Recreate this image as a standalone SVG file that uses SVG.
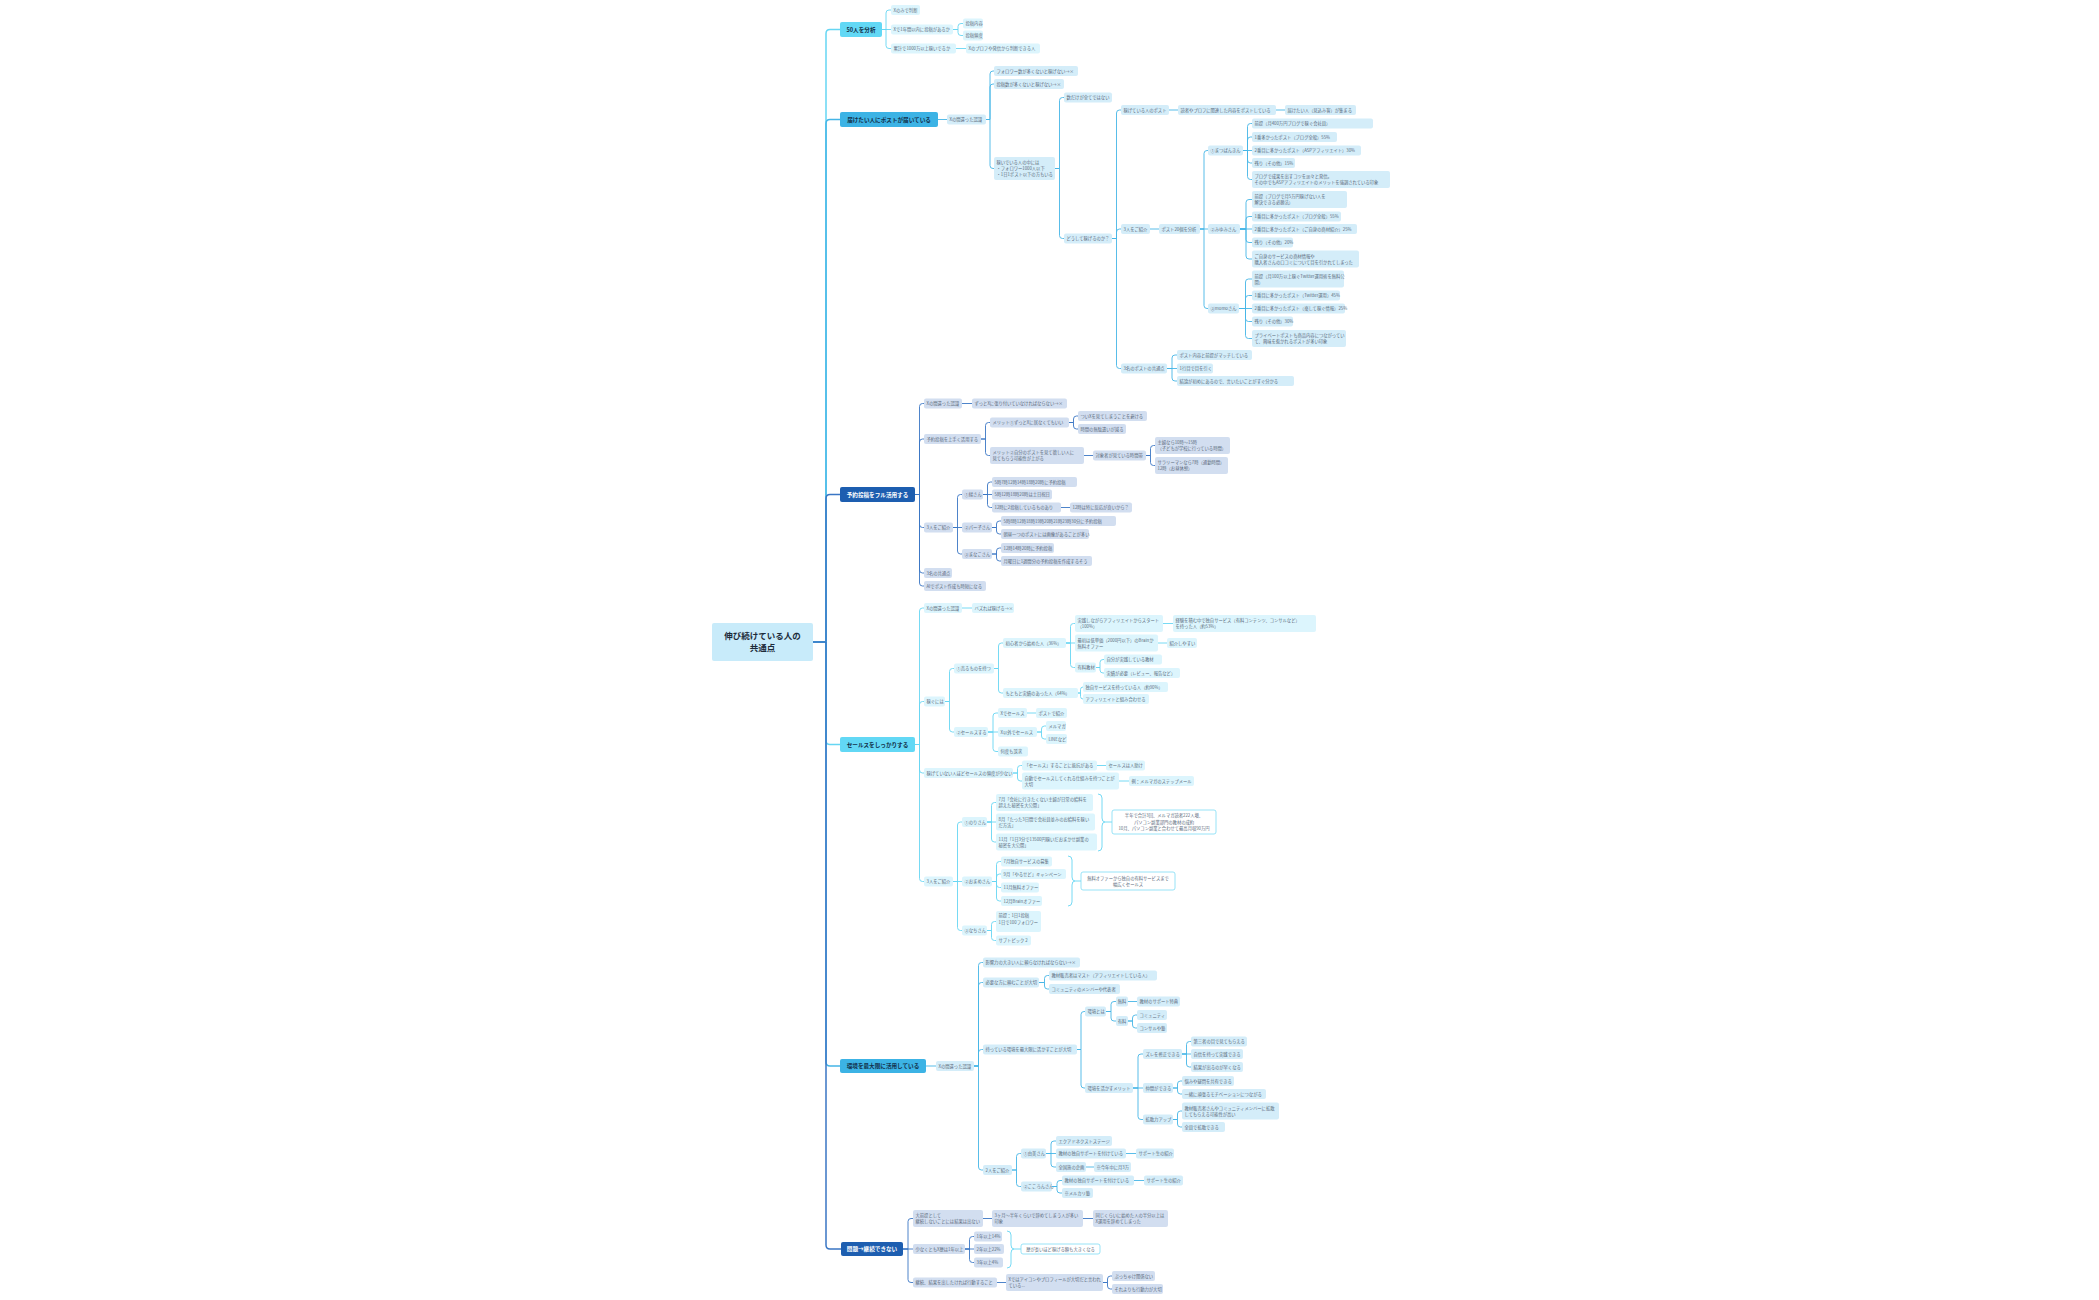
<svg xmlns="http://www.w3.org/2000/svg" width="2099" height="1300" viewBox="0 0 2099 1300">
<style>
text{font-family:"Noto Sans CJK JP","Noto Sans",sans-serif}
.t{font-size:4.3px;fill:#5b6b7c}
.tc{font-size:4.3px;fill:#5b6b7c;text-anchor:middle}
.c1{fill:#dcf5fd}
.c2{fill:#d4edf9}
.c3{fill:#d2def0}
.sm{fill:#ffffff;stroke:#7fdcf5;stroke-width:0.8}
.bt{font-size:5.6px;font-weight:bold;text-anchor:middle}
.dk{fill:#12304a}
.wh{fill:#ffffff}
.L1 path,.L1{stroke:#66d6f3}
.L2 path,.L2{stroke:#45b5e6}
.L3 path,.L3{stroke:#3a76c4}
#connectors path{fill:none;stroke-width:0.9}
#connectors .main path{stroke-width:1.5}
rect{rx:2}
</style>
<rect x="0" y="0" width="2099" height="1300" fill="#ffffff"/>
<g id="connectors">
<g class="main">
<path class="L1" d="M813 642 H826 V33.5 Q826 29.5 830 29.5 H840"/>
<path class="L2" d="M813 642 H826 V123.5 Q826 119.5 830 119.5 H840"/>
<path class="L3" d="M813 642 H826 V498.5 Q826 494.5 830 494.5 H840"/>
<path class="L1" d="M813 642 H826 V740.5 Q826 744.5 830 744.5 H840"/>
<path class="L2" d="M813 642 H826 V1062 Q826 1066 830 1066 H840"/>
<path class="L3" d="M813 642 H826 V1245 Q826 1249 830 1249 H841"/>
</g>
<g class="L1">
<path d="M882 29.5 H886 V13 Q886 10 889 10 H891"/>
<path d="M882 29.5 H891"/>
<path d="M882 29.5 H886 V45.5 Q886 48.5 889 48.5 H891"/>
<path d="M953 29.5 H958 V26.5 Q958 23.5 961 23.5 H963"/>
<path d="M953 29.5 H958 V32.5 Q958 35.5 961 35.5 H963"/>
<path d="M956 48.5 H966"/>
</g>
<g class="L2">
<path d="M938 119.5 H947"/>
<path d="M986 119.5 H990 V74 Q990 71 993 71 H994"/>
<path d="M986 119.5 H990 V87 Q990 84 993 84 H994"/>
<path d="M986 119.5 H990 V165.5 Q990 168.5 993 168.5 H994"/>
<path d="M1055 168.5 H1059.5 V100.5 Q1059.5 97.5 1062.5 97.5 H1064"/>
<path d="M1055 168.5 H1059.5 V235.5 Q1059.5 238.5 1062.5 238.5 H1064"/>
<path d="M1112 238.5 H1116.5 V113 Q1116.5 110 1119.5 110 H1121"/>
<path d="M1112 238.5 H1116.5 V232 Q1116.5 229 1119.5 229 H1121"/>
<path d="M1112 238.5 H1116.5 V365.5 Q1116.5 368.5 1119.5 368.5 H1121"/>
<path d="M1169 110 H1178"/>
<path d="M1276 110 H1285"/>
<path d="M1150 229 H1159"/>
<path d="M1200 229 H1204 V153.5 Q1204 150.5 1207 150.5 H1208"/>
<path d="M1200 229 H1208"/>
<path d="M1200 229 H1204 V305.5 Q1204 308.5 1207 308.5 H1208"/>
<path d="M1243 150.5 H1247.5 V126.5 Q1247.5 123.5 1250.5 123.5 H1252"/>
<path d="M1243 150.5 H1247.5 V140 Q1247.5 137 1250.5 137 H1252"/>
<path d="M1243 150.5 H1252"/>
<path d="M1243 150.5 H1247.5 V160 Q1247.5 163 1250.5 163 H1252"/>
<path d="M1243 150.5 H1247.5 V176.5 Q1247.5 179.5 1250.5 179.5 H1252"/>
<path d="M1240 229 H1246 V202.5 Q1246 199.5 1249 199.5 H1252"/>
<path d="M1240 229 H1246 V219.5 Q1246 216.5 1249 216.5 H1252"/>
<path d="M1240 229 H1252"/>
<path d="M1240 229 H1246 V239.5 Q1246 242.5 1249 242.5 H1252"/>
<path d="M1240 229 H1246 V256 Q1246 259 1249 259 H1252"/>
<path d="M1239 308.5 H1245.5 V282 Q1245.5 279 1248.5 279 H1252"/>
<path d="M1239 308.5 H1245.5 V298.5 Q1245.5 295.5 1248.5 295.5 H1252"/>
<path d="M1239 308.5 H1252"/>
<path d="M1239 308.5 H1245.5 V318.5 Q1245.5 321.5 1248.5 321.5 H1252"/>
<path d="M1239 308.5 H1245.5 V335.5 Q1245.5 338.5 1248.5 338.5 H1252"/>
<path d="M1167 368.5 H1172 V358 Q1172 355 1175 355 H1177"/>
<path d="M1167 368.5 H1177"/>
<path d="M1167 368.5 H1172 V378 Q1172 381 1175 381 H1177"/>
</g>
<g class="L3">
<path d="M915 494.5 H919.5 V406.5 Q919.5 403.5 922.5 403.5 H924"/>
<path d="M915 494.5 H919.5 V442 Q919.5 439 922.5 439 H924"/>
<path d="M915 494.5 H919.5 V524.5 Q919.5 527.5 922.5 527.5 H924"/>
<path d="M915 494.5 H919.5 V570 Q919.5 573 922.5 573 H924"/>
<path d="M915 494.5 H919.5 V583 Q919.5 586 922.5 586 H924"/>
<path d="M962 403.5 H972"/>
<path d="M981 439 H985.5 V425.5 Q985.5 422.5 988.5 422.5 H990"/>
<path d="M981 439 H985.5 V452.5 Q985.5 455.5 988.5 455.5 H990"/>
<path d="M1069 422.5 H1073.5 V419 Q1073.5 416 1076.5 416 H1078"/>
<path d="M1069 422.5 H1073.5 V426 Q1073.5 429 1076.5 429 H1078"/>
<path d="M1084 455.5 H1093"/>
<path d="M1146 455.5 H1150.5 V448.5 Q1150.5 445.5 1153.5 445.5 H1155"/>
<path d="M1146 455.5 H1150.5 V462.5 Q1150.5 465.5 1153.5 465.5 H1155"/>
<path d="M953 527.5 H957.5 V497.5 Q957.5 494.5 960.5 494.5 H962"/>
<path d="M953 527.5 H962"/>
<path d="M953 527.5 H957.5 V551 Q957.5 554 960.5 554 H962"/>
<path d="M983 494.5 H987.5 V485 Q987.5 482 990.5 482 H992"/>
<path d="M983 494.5 H992"/>
<path d="M983 494.5 H987.5 V504.5 Q987.5 507.5 990.5 507.5 H992"/>
<path d="M1061 507.5 H1070"/>
<path d="M992 527.5 H996.5 V524 Q996.5 521 999.5 521 H1001"/>
<path d="M992 527.5 H996.5 V531 Q996.5 534 999.5 534 H1001"/>
<path d="M992 554 H996.5 V551 Q996.5 548 999.5 548 H1001"/>
<path d="M992 554 H996.5 V558 Q996.5 561 999.5 561 H1001"/>
</g>
<g class="L1">
<path d="M915 744.5 H919.5 V611 Q919.5 608 922.5 608 H924"/>
<path d="M915 744.5 H919.5 V704.5 Q919.5 701.5 922.5 701.5 H924"/>
<path d="M915 744.5 H919.5 V770 Q919.5 773 922.5 773 H924"/>
<path d="M915 744.5 H919.5 V878.5 Q919.5 881.5 922.5 881.5 H924"/>
<path d="M962 608 H972"/>
<path d="M945 701.5 H949.5 V671.5 Q949.5 668.5 952.5 668.5 H954"/>
<path d="M945 701.5 H949.5 V729 Q949.5 732 952.5 732 H954"/>
<path d="M994 668.5 H998.5 V646 Q998.5 643 1001.5 643 H1003"/>
<path d="M994 668.5 H998.5 V690 Q998.5 693 1001.5 693 H1003"/>
<path d="M1066 643 H1070.5 V626.5 Q1070.5 623.5 1073.5 623.5 H1075"/>
<path d="M1066 643 H1075"/>
<path d="M1066 643 H1070.5 V664.5 Q1070.5 667.5 1073.5 667.5 H1075"/>
<path d="M1163 623.5 H1173"/>
<path d="M1158 643 H1167"/>
<path d="M1096 667.5 H1100 V662.5 Q1100 659.5 1103 659.5 H1104"/>
<path d="M1096 667.5 H1100 V670 Q1100 673 1103 673 H1104"/>
<path d="M1078 693 H1080.5 V689.5 Q1080.5 687 1083 687"/>
<path d="M1078 693 H1080.5 V696.5 Q1080.5 699 1083 699"/>
<path d="M988 732 H993 V716 Q993 713 996 713 H998"/>
<path d="M988 732 H998"/>
<path d="M988 732 H993 V748.5 Q993 751.5 996 751.5 H998"/>
<path d="M1027 713 H1036"/>
<path d="M1037 732 H1041.5 V729 Q1041.5 726 1044.5 726 H1046"/>
<path d="M1037 732 H1041.5 V736 Q1041.5 739 1044.5 739 H1046"/>
<path d="M1013 773 H1017.5 V768.5 Q1017.5 765.5 1020.5 765.5 H1022"/>
<path d="M1013 773 H1017.5 V778 Q1017.5 781 1020.5 781 H1022"/>
<path d="M1097 765.5 H1106"/>
<path d="M1119 781 H1129"/>
<path d="M953 881.5 H957.5 V825 Q957.5 822 960.5 822 H962"/>
<path d="M953 881.5 H962"/>
<path d="M953 881.5 H957.5 V927.5 Q957.5 930.5 960.5 930.5 H962"/>
<path d="M987 822 H991.5 V805.5 Q991.5 802.5 994.5 802.5 H996"/>
<path d="M987 822 H996"/>
<path d="M987 822 H991.5 V839 Q991.5 842 994.5 842 H996"/>
<path d="M992 881.5 H996.5 V864.5 Q996.5 861.5 999.5 861.5 H1001"/>
<path d="M992 881.5 H996.5 V877 Q996.5 874 999.5 874 H1001"/>
<path d="M992 881.5 H996.5 V884.5 Q996.5 887.5 999.5 887.5 H1001"/>
<path d="M992 881.5 H996.5 V898 Q996.5 901 999.5 901 H1001"/>
<path d="M987 930.5 H991.5 V924.5 Q991.5 921.5 994.5 921.5 H996"/>
<path d="M987 930.5 H991.5 V937.5 Q991.5 940.5 994.5 940.5 H996"/>
<path d="M1098 794 Q1102 794 1102 798 V818 Q1102 822 1105 822 Q1102 822 1102 826 V847 Q1102 851 1098 851"/>
<path d="M1105 822 H1112"/>
<path d="M1068 856 Q1072 856 1072 860 V877 Q1072 881 1075 881 Q1072 881 1072 885 V902 Q1072 906 1068 906"/>
<path d="M1075 881 H1081"/>
</g>
<g class="L2">
<path d="M926 1066 H936"/>
<path d="M974 1066 H978.5 V965.5 Q978.5 962.5 981.5 962.5 H983"/>
<path d="M974 1066 H978.5 V985.5 Q978.5 982.5 981.5 982.5 H983"/>
<path d="M974 1066 H978.5 V1052.5 Q978.5 1049.5 981.5 1049.5 H983"/>
<path d="M974 1066 H978.5 V1167 Q978.5 1170 981.5 1170 H983"/>
<path d="M1039 982.5 H1044.5 V978.5 Q1044.5 975.5 1047.5 975.5 H1049"/>
<path d="M1039 982.5 H1044.5 V986 Q1044.5 989 1047.5 989 H1049"/>
<path d="M1077 1049.5 H1081 V1014.5 Q1081 1011.5 1084 1011.5 H1085"/>
<path d="M1077 1049.5 H1081 V1085 Q1081 1088 1084 1088 H1085"/>
<path d="M1106 1011.5 H1111 V1004.5 Q1111 1001.5 1114 1001.5 H1116"/>
<path d="M1106 1011.5 H1111 V1018 Q1111 1021 1114 1021 H1116"/>
<path d="M1128 1001.5 H1137"/>
<path d="M1128 1021 H1132.5 V1018 Q1132.5 1015 1135.5 1015 H1137"/>
<path d="M1128 1021 H1132.5 V1025 Q1132.5 1028 1135.5 1028 H1137"/>
<path d="M1133 1088 H1138 V1057 Q1138 1054 1141 1054 H1143"/>
<path d="M1133 1088 H1143"/>
<path d="M1133 1088 H1138 V1116.5 Q1138 1119.5 1141 1119.5 H1143"/>
<path d="M1182 1054 H1186.5 V1044.5 Q1186.5 1041.5 1189.5 1041.5 H1191"/>
<path d="M1182 1054 H1191"/>
<path d="M1182 1054 H1186.5 V1064 Q1186.5 1067 1189.5 1067 H1191"/>
<path d="M1173 1088 H1177.5 V1084 Q1177.5 1081 1180.5 1081 H1182"/>
<path d="M1173 1088 H1177.5 V1091 Q1177.5 1094 1180.5 1094 H1182"/>
<path d="M1173 1119.5 H1177.5 V1114 Q1177.5 1111 1180.5 1111 H1182"/>
<path d="M1173 1119.5 H1177.5 V1124 Q1177.5 1127 1180.5 1127 H1182"/>
<path d="M1012 1170 H1016.5 V1156.5 Q1016.5 1153.5 1019.5 1153.5 H1021"/>
<path d="M1012 1170 H1016.5 V1183.5 Q1016.5 1186.5 1019.5 1186.5 H1021"/>
<path d="M1046 1153.5 H1051 V1144 Q1051 1141 1054 1141 H1056"/>
<path d="M1046 1153.5 H1056"/>
<path d="M1046 1153.5 H1051 V1164 Q1051 1167 1054 1167 H1056"/>
<path d="M1126 1153.5 H1136"/>
<path d="M1086 1167 H1094"/>
<path d="M1052 1186.5 H1057 V1183.5 Q1057 1180.5 1060 1180.5 H1062"/>
<path d="M1052 1186.5 H1057 V1190 Q1057 1193 1060 1193 H1062"/>
<path d="M1134 1180.5 H1144"/>
</g>
<g class="L3">
<path d="M903 1249 H908 V1221.5 Q908 1218.5 911 1218.5 H913"/>
<path d="M903 1249 H913"/>
<path d="M903 1249 H908 V1279.5 Q908 1282.5 911 1282.5 H913"/>
<path d="M983 1218.5 H992"/>
<path d="M1083 1218.5 H1093"/>
<path d="M965 1249 H969.5 V1239.5 Q969.5 1236.5 972.5 1236.5 H974"/>
<path d="M965 1249 H974"/>
<path d="M965 1249 H969.5 V1259.5 Q969.5 1262.5 972.5 1262.5 H974"/>
<path d="M997 1282.5 H1006"/>
<path d="M1103 1282.5 H1107.5 V1279 Q1107.5 1276 1110.5 1276 H1112"/>
<path d="M1103 1282.5 H1107.5 V1286 Q1107.5 1289 1110.5 1289 H1112"/>
</g>
<g class="L1">
<path d="M1007 1231 Q1011 1231 1011 1235 V1245 Q1011 1249 1014 1249 Q1011 1249 1011 1253 V1264 Q1011 1268 1007 1268"/>
<path d="M1014 1249 H1021"/>
</g>
</g>

<g id="center"><rect x="712" y="623" width="101" height="38" rx="3" fill="#c8ebfa"/><text x="762.5" y="639" font-size="8.5" font-weight="bold" fill="#1d2b3a" text-anchor="middle">伸び続けている人の</text><text x="762.5" y="651" font-size="8.5" font-weight="bold" fill="#1d2b3a" text-anchor="middle">共通点</text></g>

<g id="b1"><rect x="840" y="22" width="42" height="15" fill="#62d8f5"/><text class="bt dk" x="861" y="31.5">50人を分析</text></g>
<g id="b2"><rect x="840" y="112" width="98" height="15" fill="#3cb3e5"/><text class="bt dk" x="889" y="121.5">届けたい人にポストが届いている</text></g>
<g id="b3"><rect x="840" y="487" width="75" height="15" fill="#1d5eb0"/><text class="bt wh" x="877.5" y="496.5">予約投稿をフル活用する</text></g>
<g id="b4"><rect x="840" y="737" width="75" height="15" fill="#62d8f5"/><text class="bt dk" x="877.5" y="746.5">セールスをしっかりする</text></g>
<g id="b5"><rect x="840" y="1059" width="86" height="14" fill="#3cb3e5"/><text class="bt dk" x="883" y="1068">環境を最大限に活用している</text></g>
<g id="b6"><rect x="841" y="1242" width="62" height="14" fill="#1d5eb0"/><text class="bt wh" x="872" y="1251">問題→継続できない</text></g>

<g id="n101"><rect class="c1" x="891" y="5" width="29" height="10"/><text class="t" x="893.5" y="11.6">Xのみで判断</text></g>
<g id="n102"><rect class="c1" x="891" y="24.5" width="62" height="10"/><text class="t" x="893.5" y="31.1">Xで1年間以内に投稿があるか</text></g>
<g id="n103"><rect class="c1" x="963" y="18.5" width="20" height="10"/><text class="t" x="965.5" y="25.1">投稿内容</text></g>
<g id="n104"><rect class="c1" x="963" y="30.5" width="20" height="10"/><text class="t" x="965.5" y="37.1">投稿頻度</text></g>
<g id="n105"><rect class="c1" x="891" y="43.5" width="65" height="10"/><text class="t" x="893.5" y="50.1">累計で1000万以上稼いでるか</text></g>
<g id="n106"><rect class="c1" x="966" y="43.5" width="74" height="10"/><text class="t" x="968.5" y="50.1">Xのプロフや発信から判断できる人</text></g>

<g id="n201"><rect class="c2" x="947" y="114.5" width="39" height="10"/><text class="t" x="949.5" y="121.1">Xの間違った認識</text></g>
<g id="n202"><rect class="c2" x="994" y="66" width="84" height="10"/><text class="t" x="996.5" y="72.6">フォロワー数が多くないと稼げない→×</text></g>
<g id="n203"><rect class="c2" x="994" y="79" width="70" height="10"/><text class="t" x="996.5" y="85.6">投稿数が多くないと稼げない→×</text></g>
<g id="n204"><rect class="c2" x="994" y="157" width="61" height="23"/><text class="t" x="996.5" y="164.1">稼いでいる人の中には</text><text class="t" x="996.5" y="170.1">・フォロワー1000人以下</text><text class="t" x="996.5" y="176.1">・1日1ポスト以下の方もいる</text></g>
<g id="n205"><rect class="c2" x="1064" y="92.5" width="48" height="10"/><text class="t" x="1066.5" y="99.1">数だけが全てではない</text></g>
<g id="n206"><rect class="c2" x="1064" y="233.5" width="48" height="10"/><text class="t" x="1066.5" y="240.1">どうして稼げるのか？</text></g>
<g id="n207"><rect class="c2" x="1121" y="105" width="48" height="10"/><text class="t" x="1123.5" y="111.6">稼げている人のポスト</text></g>
<g id="n208"><rect class="c2" x="1178" y="105" width="98" height="10"/><text class="t" x="1180.5" y="111.6">読者やプロフに関連した内容をポストしている</text></g>
<g id="n209"><rect class="c2" x="1285" y="105" width="71" height="10"/><text class="t" x="1287.5" y="111.6">届けたい人（見込み客）が集まる</text></g>
<g id="n210"><rect class="c2" x="1121" y="224" width="29" height="10"/><text class="t" x="1123.5" y="230.6">3人をご紹介</text></g>
<g id="n211"><rect class="c2" x="1159" y="224" width="41" height="10"/><text class="t" x="1161.5" y="230.6">ポスト20個を分析</text></g>
<g id="n212"><rect class="c2" x="1208" y="145.5" width="35" height="10"/><text class="t" x="1210.5" y="152.1">①まつばんきん</text></g>
<g id="n213"><rect class="c2" x="1252" y="118.5" width="121" height="10"/><text class="t" x="1254.5" y="125.1">前提（月400万円ブログで稼ぐ会社員）</text></g>
<g id="n214"><rect class="c2" x="1252" y="132" width="85" height="10"/><text class="t" x="1254.5" y="138.6">1番多かったポスト（ブログ全般）55%</text></g>
<g id="n215"><rect class="c2" x="1252" y="145.5" width="109" height="10"/><text class="t" x="1254.5" y="152.1">2番目に多かったポスト（ASPアフィリエイト）30%</text></g>
<g id="n216"><rect class="c2" x="1252" y="158" width="43" height="10"/><text class="t" x="1254.5" y="164.6">残り（その他）15%</text></g>
<g id="n217"><rect class="c2" x="1252" y="171" width="138" height="17"/><text class="t" x="1254.5" y="178.1">ブログで成果を出すコツを淡々と発信。</text><text class="t" x="1254.5" y="184.1">その中でもASPアフィリエイトのメリットを強調されている印象</text></g>
<g id="n218"><rect class="c2" x="1208" y="224" width="32" height="10"/><text class="t" x="1210.5" y="230.6">②みゆみさん</text></g>
<g id="n219"><rect class="c2" x="1252" y="191" width="95" height="17"/><text class="t" x="1254.5" y="198.1">前提（ブログで月5万円稼げない人を</text><text class="t" x="1254.5" y="204.1">解決できる必勝法）</text></g>
<g id="n220"><rect class="c2" x="1252" y="211.5" width="89" height="10"/><text class="t" x="1254.5" y="218.1">1番目に多かったポスト（ブログ全般）55%</text></g>
<g id="n221"><rect class="c2" x="1252" y="224" width="105" height="10"/><text class="t" x="1254.5" y="230.6">2番目に多かったポスト（ご自身の商材紹介）25%</text></g>
<g id="n222"><rect class="c2" x="1252" y="237.5" width="41" height="10"/><text class="t" x="1254.5" y="244.1">残り（その他）20%</text></g>
<g id="n223"><rect class="c2" x="1252" y="250.5" width="107" height="17"/><text class="t" x="1254.5" y="257.6">ご自身のサービスの商材情報や</text><text class="t" x="1254.5" y="263.6">購入者さんの口コミについて目を引かれてしまった</text></g>
<g id="n224"><rect class="c2" x="1208" y="303.5" width="31" height="10"/><text class="t" x="1210.5" y="310.1">③momoさん</text></g>
<g id="n225"><rect class="c2" x="1252" y="270.5" width="92" height="17"/><text class="t" x="1254.5" y="277.6">前提（月100万以上稼ぐTwitter運用術を無料公</text><text class="t" x="1254.5" y="283.6">開）</text></g>
<g id="n226"><rect class="c2" x="1252" y="290.5" width="88" height="10"/><text class="t" x="1254.5" y="297.1">1番目に多かったポスト（Twitter運用）45%</text></g>
<g id="n227"><rect class="c2" x="1252" y="303.5" width="93" height="10"/><text class="t" x="1254.5" y="310.1">2番目に多かったポスト（楽して稼ぐ情報）25%</text></g>
<g id="n228"><rect class="c2" x="1252" y="316.5" width="41" height="10"/><text class="t" x="1254.5" y="323.1">残り（その他）30%</text></g>
<g id="n229"><rect class="c2" x="1252" y="330" width="94" height="17"/><text class="t" x="1254.5" y="337.1">プライベートポストも商品内容につながってい</text><text class="t" x="1254.5" y="343.1">て、興味を惹かれるポストが多い印象</text></g>
<g id="n230"><rect class="c2" x="1121" y="363.5" width="46" height="10"/><text class="t" x="1123.5" y="370.1">3名のポストの共通点</text></g>
<g id="n231"><rect class="c2" x="1177" y="350" width="75" height="10"/><text class="t" x="1179.5" y="356.6">ポスト内容と前提がマッチしている</text></g>
<g id="n232"><rect class="c2" x="1177" y="363.5" width="36" height="10"/><text class="t" x="1179.5" y="370.1">1行目で目を引く</text></g>
<g id="n233"><rect class="c2" x="1177" y="376" width="117" height="10"/><text class="t" x="1179.5" y="382.6">結論が初めにあるので、言いたいことがすぐ分かる</text></g>

<g id="n301"><rect class="c3" x="924" y="398.5" width="38" height="10"/><text class="t" x="926.5" y="405.1">Xの間違った認識</text></g>
<g id="n302"><rect class="c3" x="972" y="398.5" width="95" height="10"/><text class="t" x="974.5" y="405.1">ずっとXに張り付いていなければならない→×</text></g>
<g id="n303"><rect class="c3" x="924" y="434" width="57" height="10"/><text class="t" x="926.5" y="440.6">予約投稿を上手く活用する</text></g>
<g id="n304"><rect class="c3" x="990" y="417.5" width="79" height="10"/><text class="t" x="992.5" y="424.1">メリット①ずっとXに居なくてもいい</text></g>
<g id="n305"><rect class="c3" x="1078" y="411" width="69" height="10"/><text class="t" x="1080.5" y="417.6">ついXを見てしまうことを避ける</text></g>
<g id="n306"><rect class="c3" x="1078" y="424" width="48" height="10"/><text class="t" x="1080.5" y="430.6">時間の無駄遣いが減る</text></g>
<g id="n307"><rect class="c3" x="990" y="447" width="94" height="17"/><text class="t" x="992.5" y="454.1">メリット②自分のポストを見て欲しい人に</text><text class="t" x="992.5" y="460.1">見てもらう可能性が上がる</text></g>
<g id="n308"><rect class="c3" x="1093" y="450.5" width="53" height="10"/><text class="t" x="1095.5" y="457.1">対象者が見ている時間帯</text></g>
<g id="n309"><rect class="c3" x="1155" y="437" width="75" height="17"/><text class="t" x="1157.5" y="444.1">主婦なら10時〜15時</text><text class="t" x="1157.5" y="450.1">（子どもが学校に行っている時間）</text></g>
<g id="n310"><rect class="c3" x="1155" y="457" width="73" height="17"/><text class="t" x="1157.5" y="464.1">サラリーマンなら7時（通勤時間）</text><text class="t" x="1157.5" y="470.1">12時（お昼休憩）</text></g>
<g id="n311"><rect class="c3" x="924" y="522.5" width="29" height="10"/><text class="t" x="926.5" y="529.1">3人をご紹介</text></g>
<g id="n312"><rect class="c3" x="962" y="489.5" width="21" height="10"/><text class="t" x="964.5" y="496.1">①緑さん</text></g>
<g id="n313"><rect class="c3" x="992" y="477" width="85" height="10"/><text class="t" x="994.5" y="483.6">5時7時12時14時18時20時に予約投稿</text></g>
<g id="n314"><rect class="c3" x="992" y="489.5" width="60" height="10"/><text class="t" x="994.5" y="496.1">5時12時18時20時は土日祝日</text></g>
<g id="n315"><rect class="c3" x="992" y="502.5" width="69" height="10"/><text class="t" x="994.5" y="509.1">12時に2投稿しているものあり</text></g>
<g id="n316"><rect class="c3" x="1070" y="502.5" width="62" height="10"/><text class="t" x="1072.5" y="509.1">12時は特に反応が良いから？</text></g>
<g id="n317"><rect class="c3" x="962" y="522.5" width="30" height="10"/><text class="t" x="964.5" y="529.1">②パー子さん</text></g>
<g id="n318"><rect class="c3" x="1001" y="516" width="115" height="10"/><text class="t" x="1003.5" y="522.6">5時8時12時18時19時20時21時23時30分に予約投稿</text></g>
<g id="n319"><rect class="c3" x="1001" y="529" width="88" height="10"/><text class="t" x="1003.5" y="535.6">朝昼一つのポストには画像があることが多い</text></g>
<g id="n320"><rect class="c3" x="962" y="549" width="30" height="10"/><text class="t" x="964.5" y="555.6">③まなこさん</text></g>
<g id="n321"><rect class="c3" x="1001" y="543" width="53" height="10"/><text class="t" x="1003.5" y="549.6">12時14時20時に予約投稿</text></g>
<g id="n322"><rect class="c3" x="1001" y="556" width="91" height="10"/><text class="t" x="1003.5" y="562.6">月曜日に1週間分の予約投稿を作成するそう</text></g>
<g id="n323"><rect class="c3" x="924" y="568" width="28" height="10"/><text class="t" x="926.5" y="574.6">3名の共通点</text></g>
<g id="n324"><rect class="c3" x="924" y="581" width="62" height="10"/><text class="t" x="926.5" y="587.6">AIでポスト作成も時短になる</text></g>

<g id="n401"><rect class="c1" x="924" y="603" width="38" height="10"/><text class="t" x="926.5" y="609.6">Xの間違った認識</text></g>
<g id="n402"><rect class="c1" x="972" y="603" width="42" height="10"/><text class="t" x="974.5" y="609.6">バズれば稼げる→×</text></g>
<g id="n403"><rect class="c1" x="924" y="696.5" width="21" height="10"/><text class="t" x="926.5" y="703.1">稼ぐには</text></g>
<g id="n404"><rect class="c1" x="954" y="663.5" width="40" height="10"/><text class="t" x="956.5" y="670.1">①売るものを持つ</text></g>
<g id="n405"><rect class="c1" x="1003" y="638" width="63" height="10"/><text class="t" x="1005.5" y="644.6">初心者から始めた人（36%）</text></g>
<g id="n406"><rect class="c1" x="1075" y="615" width="88" height="17"/><text class="t" x="1077.5" y="622.1">実践しながらアフィリエイトからスタート</text><text class="t" x="1077.5" y="628.1">（100%）</text></g>
<g id="n407"><rect class="c1" x="1173" y="615" width="143" height="17"/><text class="t" x="1175.5" y="622.1">経験を積む中で独自サービス（有料コンテンツ、コンサルなど）</text><text class="t" x="1175.5" y="628.1">を持った人（約53%）</text></g>
<g id="n408"><rect class="c1" x="1075" y="634.5" width="83" height="17"/><text class="t" x="1077.5" y="641.6">最初は低単価（2000円以下）のBrainか</text><text class="t" x="1077.5" y="647.6">無料オファー</text></g>
<g id="n409"><rect class="c1" x="1167" y="638" width="30" height="10"/><text class="t" x="1169.5" y="644.6">紹介しやすい</text></g>
<g id="n410"><rect class="c1" x="1075" y="662.5" width="21" height="10"/><text class="t" x="1077.5" y="669.1">有料教材</text></g>
<g id="n411"><rect class="c1" x="1104" y="654.5" width="58" height="10"/><text class="t" x="1106.5" y="661.1">自分が実践している教材</text></g>
<g id="n412"><rect class="c1" x="1104" y="668" width="76" height="10"/><text class="t" x="1106.5" y="674.6">実績が必要（レビュー、報告など）</text></g>
<g id="n413"><rect class="c1" x="1003" y="688" width="75" height="10"/><text class="t" x="1005.5" y="694.6">もともと実績のあった人（64%）</text></g>
<g id="n414"><rect class="c1" x="1083" y="682" width="85" height="10"/><text class="t" x="1085.5" y="688.6">独自サービスを持っている人（約90%）</text></g>
<g id="n415"><rect class="c1" x="1083" y="694" width="66" height="10"/><text class="t" x="1085.5" y="700.6">アフィリエイトと組み合わせる</text></g>
<g id="n416"><rect class="c1" x="954" y="727" width="34" height="10"/><text class="t" x="956.5" y="733.6">②セールスする</text></g>
<g id="n417"><rect class="c1" x="998" y="708" width="29" height="10"/><text class="t" x="1000.5" y="714.6">Xでセールス</text></g>
<g id="n418"><rect class="c1" x="1036" y="708" width="31" height="10"/><text class="t" x="1038.5" y="714.6">ポストで紹介</text></g>
<g id="n419"><rect class="c1" x="998" y="727" width="39" height="10"/><text class="t" x="1000.5" y="733.6">X以外でセールス</text></g>
<g id="n420"><rect class="c1" x="1046" y="721" width="20" height="10"/><text class="t" x="1048.5" y="727.6">メルマガ</text></g>
<g id="n421"><rect class="c1" x="1046" y="734" width="21" height="10"/><text class="t" x="1048.5" y="740.6">LINEなど</text></g>
<g id="n422"><rect class="c1" x="998" y="746.5" width="30" height="10"/><text class="t" x="1000.5" y="753.1">何度も訴求</text></g>
<g id="n423"><rect class="c1" x="924" y="768" width="89" height="10"/><text class="t" x="926.5" y="774.6">稼げていない人ほどセールスの頻度が少ない</text></g>
<g id="n424"><rect class="c1" x="1022" y="760.5" width="75" height="10"/><text class="t" x="1024.5" y="767.1">「セールス」することに抵抗がある</text></g>
<g id="n425"><rect class="c1" x="1106" y="760.5" width="39" height="10"/><text class="t" x="1108.5" y="767.1">セールスは人助け</text></g>
<g id="n426"><rect class="c1" x="1022" y="772.5" width="97" height="17"/><text class="t" x="1024.5" y="779.6">自動でセールスしてくれる仕組みを持つことが</text><text class="t" x="1024.5" y="785.6">大切</text></g>
<g id="n427"><rect class="c1" x="1129" y="776" width="65" height="10"/><text class="t" x="1131.5" y="782.6">例：メルマガのステップメール</text></g>
<g id="n428"><rect class="c1" x="924" y="876.5" width="29" height="10"/><text class="t" x="926.5" y="883.1">3人をご紹介</text></g>
<g id="n429"><rect class="c1" x="962" y="817" width="25" height="10"/><text class="t" x="964.5" y="823.6">①のりさん</text></g>
<g id="n430"><rect class="c1" x="996" y="794" width="97" height="17"/><text class="t" x="998.5" y="801.1">7月「会社に行きたくない主婦が日常の給料を</text><text class="t" x="998.5" y="807.1">超えた秘密を大公開」</text></g>
<g id="n431"><rect class="c1" x="996" y="813.5" width="99" height="17"/><text class="t" x="998.5" y="820.6">8月「たった3日間で会社員並みのお給料を稼い</text><text class="t" x="998.5" y="826.6">だ方法」</text></g>
<g id="n432"><rect class="c1" x="996" y="833.5" width="101" height="17"/><text class="t" x="998.5" y="840.6">11月「1日3分で13500円稼いだおまかせ副業の</text><text class="t" x="998.5" y="846.6">秘密を大公開」</text></g>
<g id="n433"><rect class="sm" x="1112" y="810" width="104" height="24" rx="3"/><text class="tc" x="1164" y="817.1">半年で合計3回、メルマガ読者222人増、</text><text class="tc" x="1164" y="823.6">パソコン副業部門の教材の成約</text><text class="tc" x="1164" y="830.1">10月、パソコン副業と合わせて最高月収90万円</text></g>
<g id="n434"><rect class="c1" x="962" y="876.5" width="30" height="10"/><text class="t" x="964.5" y="883.1">②おまめさん</text></g>
<g id="n435"><rect class="c1" x="1001" y="856.5" width="51" height="10"/><text class="t" x="1003.5" y="863.1">7月独自サービスの募集</text></g>
<g id="n436"><rect class="c1" x="1001" y="869" width="65" height="10"/><text class="t" x="1003.5" y="875.6">9月「やるせど」キャンペーン</text></g>
<g id="n437"><rect class="c1" x="1001" y="882.5" width="38" height="10"/><text class="t" x="1003.5" y="889.1">11月無料オファー</text></g>
<g id="n438"><rect class="c1" x="1001" y="896" width="41" height="10"/><text class="t" x="1003.5" y="902.6">12月Brainオファー</text></g>
<g id="n439"><rect class="sm" x="1081" y="872" width="94" height="18" rx="3"/><text class="tc" x="1128" y="879.6">無料オファーから独自の有料サービスまで</text><text class="tc" x="1128" y="886.1">幅広くセールス</text></g>
<g id="n440"><rect class="c1" x="962" y="925.5" width="25" height="10"/><text class="t" x="964.5" y="932.1">③なちさん</text></g>
<g id="n441"><rect class="c1" x="996" y="911" width="45" height="21"/><text class="t" x="998.5" y="916.8">前提：1日1投稿</text><text class="t" x="998.5" y="923.6">1日で100フォロワー</text></g>
<g id="n442"><rect class="c1" x="996" y="935.5" width="35" height="10"/><text class="t" x="998.5" y="942.1">サブトピック 2</text></g>

<g id="n501"><rect class="c2" x="936" y="1061" width="38" height="10"/><text class="t" x="938.5" y="1067.6">Xの間違った認識</text></g>
<g id="n502"><rect class="c2" x="983" y="957.5" width="97" height="10"/><text class="t" x="985.5" y="964.1">影響力の大きい人に頼らなければならない→×</text></g>
<g id="n503"><rect class="c2" x="983" y="977.5" width="56" height="10"/><text class="t" x="985.5" y="984.1">必要な方に頼むことが大切</text></g>
<g id="n504"><rect class="c2" x="1049" y="970.5" width="108" height="10"/><text class="t" x="1051.5" y="977.1">教材販売者はマスト（アフィリエイトしている人）</text></g>
<g id="n505"><rect class="c2" x="1049" y="984" width="71" height="10"/><text class="t" x="1051.5" y="990.6">コミュニティのメンバーや代表者</text></g>
<g id="n506"><rect class="c2" x="983" y="1044.5" width="94" height="10"/><text class="t" x="985.5" y="1051.1">持っている環境を最大限に活かすことが大切</text></g>
<g id="n507"><rect class="c2" x="1085" y="1006.5" width="21" height="10"/><text class="t" x="1087.5" y="1013.1">環境とは</text></g>
<g id="n508"><rect class="c2" x="1116" y="996.5" width="12" height="10"/><text class="t" x="1117.8" y="1003.1">無料</text></g>
<g id="n509"><rect class="c2" x="1137" y="996.5" width="43" height="10"/><text class="t" x="1139.5" y="1003.1">教材のサポート特典</text></g>
<g id="n510"><rect class="c2" x="1116" y="1016" width="12" height="10"/><text class="t" x="1117.8" y="1022.6">有料</text></g>
<g id="n511"><rect class="c2" x="1137" y="1010" width="30" height="10"/><text class="t" x="1139.5" y="1016.6">コミュニティ</text></g>
<g id="n512"><rect class="c2" x="1137" y="1023" width="30" height="10"/><text class="t" x="1139.5" y="1029.6">コンサルや塾</text></g>
<g id="n513"><rect class="c2" x="1085" y="1083" width="48" height="10"/><text class="t" x="1087.5" y="1089.6">環境を活かすメリット</text></g>
<g id="n514"><rect class="c2" x="1143" y="1049" width="39" height="10"/><text class="t" x="1145.5" y="1055.6">ズレを修正できる</text></g>
<g id="n515"><rect class="c2" x="1191" y="1036.5" width="56" height="10"/><text class="t" x="1193.5" y="1043.1">第三者の目で見てもらえる</text></g>
<g id="n516"><rect class="c2" x="1191" y="1049" width="52" height="10"/><text class="t" x="1193.5" y="1055.6">自信を持って実践できる</text></g>
<g id="n517"><rect class="c2" x="1191" y="1062" width="52" height="10"/><text class="t" x="1193.5" y="1068.6">結果が出るのが早くなる</text></g>
<g id="n518"><rect class="c2" x="1143" y="1083" width="30" height="10"/><text class="t" x="1145.5" y="1089.6">仲間ができる</text></g>
<g id="n519"><rect class="c2" x="1182" y="1076" width="52" height="10"/><text class="t" x="1184.5" y="1082.6">悩みや疑問を共有できる</text></g>
<g id="n520"><rect class="c2" x="1182" y="1089" width="84" height="10"/><text class="t" x="1184.5" y="1095.6">一緒に頑張るモチベーションにつながる</text></g>
<g id="n521"><rect class="c2" x="1143" y="1114.5" width="30" height="10"/><text class="t" x="1145.5" y="1121.1">拡散力アップ</text></g>
<g id="n522"><rect class="c2" x="1182" y="1102.5" width="97" height="17"/><text class="t" x="1184.5" y="1109.6">教材販売者さんやコミュニティメンバーに拡散</text><text class="t" x="1184.5" y="1115.6">してもらえる可能性が高い</text></g>
<g id="n523"><rect class="c2" x="1182" y="1122" width="43" height="10"/><text class="t" x="1184.5" y="1128.6">全員で拡散できる</text></g>
<g id="n524"><rect class="c2" x="983" y="1165" width="29" height="10"/><text class="t" x="985.5" y="1171.6">2人をご紹介</text></g>
<g id="n525"><rect class="c2" x="1021" y="1148.5" width="25" height="10"/><text class="t" x="1023.5" y="1155.1">①由美さん</text></g>
<g id="n526"><rect class="c2" x="1056" y="1136" width="56" height="10"/><text class="t" x="1058.5" y="1142.6">エクアドネクストステージ</text></g>
<g id="n527"><rect class="c2" x="1056" y="1148.5" width="70" height="10"/><text class="t" x="1058.5" y="1155.1">教材の独自サポートを付けている</text></g>
<g id="n528"><rect class="c2" x="1136" y="1148.5" width="38" height="10"/><text class="t" x="1138.5" y="1155.1">サポート生の紹介</text></g>
<g id="n529"><rect class="c2" x="1056" y="1162" width="30" height="10"/><text class="t" x="1058.5" y="1168.6">全国旅の企画</text></g>
<g id="n530"><rect class="c2" x="1094" y="1162" width="37" height="10"/><text class="t" x="1096.5" y="1168.6">※今年中に月3万</text></g>
<g id="n531"><rect class="c2" x="1021" y="1181.5" width="31" height="10"/><text class="t" x="1023.5" y="1188.1">②こころんさん</text></g>
<g id="n532"><rect class="c2" x="1062" y="1175.5" width="72" height="10"/><text class="t" x="1064.5" y="1182.1">教材の独自サポートを付けている</text></g>
<g id="n533"><rect class="c2" x="1144" y="1175.5" width="39" height="10"/><text class="t" x="1146.5" y="1182.1">サポート生の紹介</text></g>
<g id="n534"><rect class="c2" x="1062" y="1188" width="31" height="10"/><text class="t" x="1064.5" y="1194.6">※メルカリ塾</text></g>

<g id="n601"><rect class="c3" x="913" y="1210" width="70" height="17"/><text class="t" x="915.5" y="1217.1">大前提として</text><text class="t" x="915.5" y="1223.1">継続しないことには結果は出ない</text></g>
<g id="n602"><rect class="c3" x="992" y="1210" width="91" height="17"/><text class="t" x="994.5" y="1217.1">3ヶ月〜半年くらいで辞めてしまう人が多い</text><text class="t" x="994.5" y="1223.1">印象</text></g>
<g id="n603"><rect class="c3" x="1093" y="1210" width="75" height="17"/><text class="t" x="1095.5" y="1217.1">同じくらいに始めた人の半分以上は</text><text class="t" x="1095.5" y="1223.1">X運用を辞めてしまった</text></g>
<g id="n604"><rect class="c3" x="913" y="1244" width="52" height="10"/><text class="t" x="915.5" y="1250.6">少なくともX歴は1年以上</text></g>
<g id="n605"><rect class="c3" x="974" y="1231.5" width="28" height="10"/><text class="t" x="976.5" y="1238.1">1年以上14%</text></g>
<g id="n606"><rect class="c3" x="974" y="1244" width="30" height="10"/><text class="t" x="976.5" y="1250.6">2年以上22%</text></g>
<g id="n607"><rect class="c3" x="974" y="1257.5" width="29" height="10"/><text class="t" x="976.5" y="1264.1">3年以上4%</text></g>
<g id="n608"><rect class="sm" x="1021" y="1244" width="79" height="10" rx="2.5"/><text class="tc" x="1060.5" y="1250.6">歴が長いほど稼げる額も大きくなる</text></g>
<g id="n609"><rect class="c3" x="913" y="1277.5" width="84" height="10"/><text class="t" x="915.5" y="1284.1">継続、結果を出したければ行動すること</text></g>
<g id="n610"><rect class="c3" x="1006" y="1274" width="97" height="17"/><text class="t" x="1008.5" y="1281.1">Xではアイコンやプロフィールが大切だと言われ</text><text class="t" x="1008.5" y="1287.1">ている...</text></g>
<g id="n611"><rect class="c3" x="1112" y="1271" width="43" height="10"/><text class="t" x="1114.5" y="1277.6">ぶっちゃけ関係ない</text></g>
<g id="n612"><rect class="c3" x="1112" y="1284" width="51" height="10"/><text class="t" x="1114.5" y="1290.6">それよりも行動力が大切</text></g>
</svg>
